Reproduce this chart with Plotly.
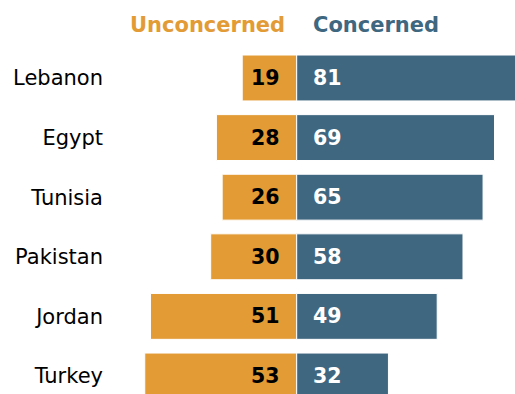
import plotly.graph_objects as go

# Share of respondents by country
countries = ["Lebanon", "Egypt", "Tunisia", "Pakistan", "Jordan", "Turkey"]
unconcerned = [19, 28, 26, 30, 51, 53]
concerned = [81, 69, 65, 58, 49, 32]

ORANGE = "#E29B35"
BLUE = "#406780"
FONT = "DejaVu Sans"

fig = go.Figure()

# Unconcerned extends to the left of zero, Concerned to the right
fig.add_trace(go.Bar(
    y=countries, x=[-v for v in unconcerned], orientation="h",
    marker=dict(color=ORANGE, line=dict(color="white", width=1)),
    width=0.77, name="Unconcerned", hoverinfo="skip",
))
fig.add_trace(go.Bar(
    y=countries, x=concerned, orientation="h",
    marker=dict(color=BLUE, line=dict(color="white", width=1)),
    width=0.77, name="Concerned", hoverinfo="skip",
))

annotations = []
for c, u, k in zip(countries, unconcerned, concerned):
    annotations.append(dict(
        x=0, y=c, xref="x", yref="y", text=f"<b>{u}</b>", showarrow=False,
        xanchor="right", xshift=-15, font=dict(family=FONT, size=20.5, color="black"),
    ))
    annotations.append(dict(
        x=0, y=c, xref="x", yref="y", text=f"<b>{k}</b>", showarrow=False,
        xanchor="left", xshift=14, font=dict(family=FONT, size=20.5, color="white"),
    ))

# Column headings
annotations.append(dict(
    x=0, y=1.0665, xref="x", yref="paper", text="<b>Unconcerned</b>", showarrow=False,
    xanchor="right", yanchor="middle", xshift=-10, font=dict(family=FONT, size=21, color=ORANGE),
))
annotations.append(dict(
    x=0, y=1.0665, xref="x", yref="paper", text="<b>Concerned</b>", showarrow=False,
    xanchor="left", yanchor="middle", xshift=14, font=dict(family=FONT, size=21, color=BLUE),
))

fig.update_layout(
    width=515, height=394,
    margin=dict(l=110, r=0, t=48, b=0),
    barmode="relative",
    showlegend=False,
    plot_bgcolor="white", paper_bgcolor="white",
    font=dict(family=FONT, size=21, color="black"),
    annotations=annotations,
)
fig.update_xaxes(range=[-65.12, 76.14], visible=False, fixedrange=True)
fig.update_yaxes(
    categoryorder="array", categoryarray=countries,
    range=[5.302, -0.503], showgrid=False, zeroline=False, showline=False,
    ticks="", ticklabelstandoff=6, tickfont=dict(family=FONT, size=21, color="black"),
    fixedrange=True,
)

fig.write_html("out.html")
